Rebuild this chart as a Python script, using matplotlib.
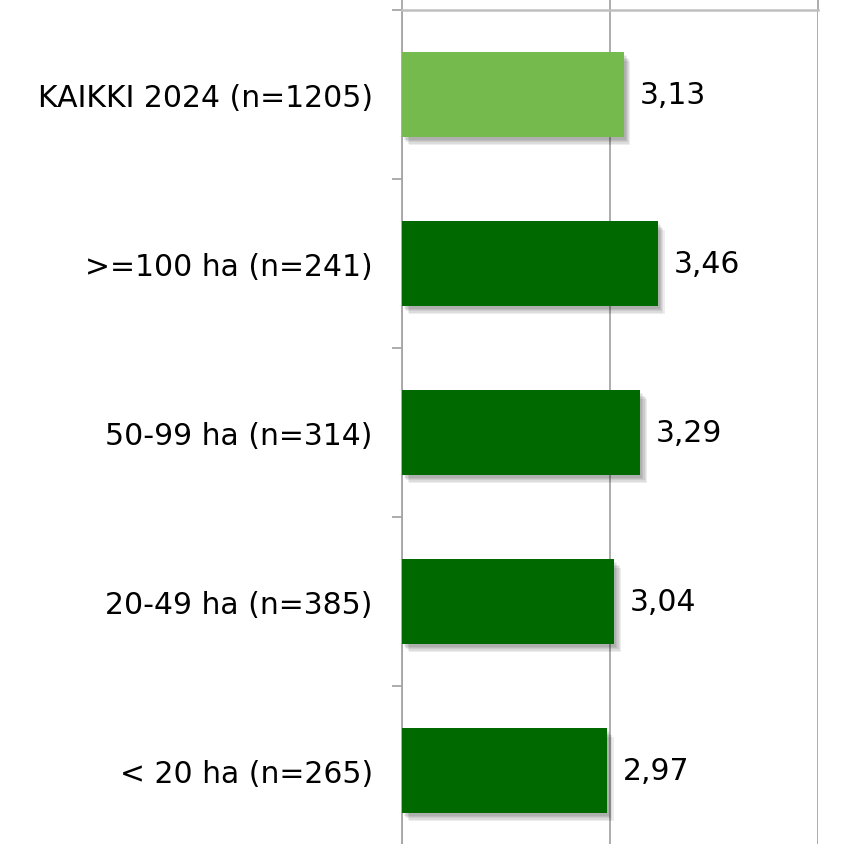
import matplotlib
matplotlib.use("Agg")
import matplotlib.pyplot as plt
import matplotlib.patheffects as pe
import numpy as np

categories = ["KAIKKI 2024 (n=1205)", ">=100 ha (n=241)", "50-99 ha (n=314)",
              "20-49 ha (n=385)", "< 20 ha (n=265)"]
values = [3.13, 3.46, 3.29, 3.04, 2.97]
value_labels = ["3,13", "3,46", "3,29", "3,04", "2,97"]
colors = ["#75BA4C", "#006A00", "#006A00", "#006A00", "#006A00"]
grid_values = [1, 3, 5]

W, H = 851, 845
fig = plt.figure(figsize=(W / 100, H / 100), dpi=100)
# plot area runs past the bottom edge of the picture (cropped chart)
top, bottom = 11, 856
ax = fig.add_axes([402 / W, (H - bottom) / H, (818 - 402) / W, (bottom - top) / H])

y = np.arange(len(categories))
# soft drop shadow, built from a few faint offset copies
shadow = [pe.SimplePatchShadow(offset=(o * 0.8, -o), shadow_rgbFace="#000000", alpha=0.07)
          for o in (6, 5, 4, 3, 2)] + [pe.Normal()]
ax.barh(y, np.array(values) - 1, left=1, height=0.5, color=colors,
        path_effects=shadow, zorder=3)

for yi, v, lab in zip(y, values, value_labels):
    ax.annotate(lab, (v, yi), xytext=(11.5, 0), textcoords="offset points",
                va="center", ha="left", fontsize=21.5, color="#000000")

ax.set_xlim(1, 5)
ax.set_ylim(len(categories) - 0.5, -0.5)

ax.set_xticks(grid_values)
ax.tick_params(axis="x", length=0, labeltop=False, labelbottom=False)
ax.grid(axis="x", color="#A6A6A6", linewidth=1.3, zorder=0)
# value-axis tick marks pointing up out of the plot area
for gv in grid_values:
    ax.plot([gv, gv], [-0.5, -0.58], color="#A6A6A6", linewidth=1.3,
            clip_on=False, zorder=1)

ax.set_yticks(y)
ax.set_yticklabels(categories, fontsize=21.5)
ax.tick_params(axis="y", which="major", length=0, pad=21)
ax.set_yticks(np.arange(-0.5, len(categories), 1), minor=True)
ax.tick_params(axis="y", which="minor", direction="out", length=7, width=1.3,
               color="#A6A6A6")

for s in ["right", "bottom"]:
    ax.spines[s].set_visible(False)
ax.spines["top"].set_color("#BFBFBF")
ax.spines["top"].set_linewidth(1.8)
ax.spines["left"].set_color("#A6A6A6")
ax.spines["left"].set_linewidth(1.3)

fig.savefig("out.png", dpi=100)
